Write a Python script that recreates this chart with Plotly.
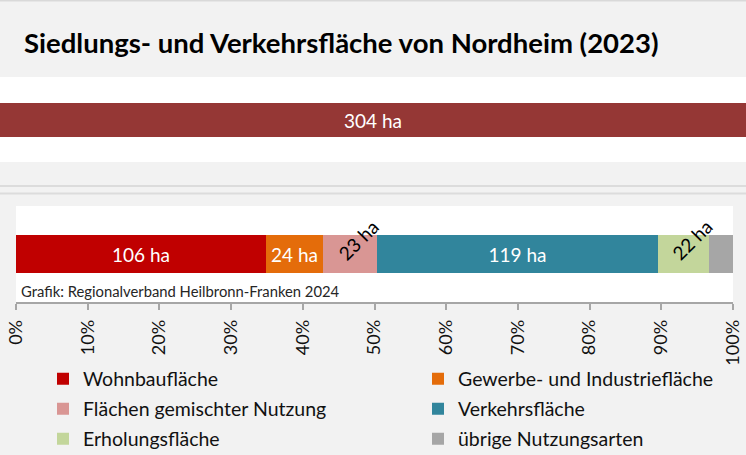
import plotly.graph_objects as go

# Flächennutzung der Siedlungs- und Verkehrsfläche, Nordheim 2023 (in ha)
categories = [
    "Wohnbaufläche",
    "Gewerbe- und Industriefläche",
    "Flächen gemischter Nutzung",
    "Verkehrsfläche",
    "Erholungsfläche",
    "übrige Nutzungsarten",
]
hectares = [106, 24, 23, 119, 22, 10]
total_ha = 304
# how each segment is labelled: horizontal inside, rotated above, or not at all
label_style = ["inside", "inside", "rotated", "inside", "rotated", "none"]
colors = ["#c00000", "#e46c0a", "#d99694", "#31859c", "#c3d69b", "#a6a6a6"]
total_color = "#953735"
tick_values = [0, 10, 20, 30, 40, 50, 60, 70, 80, 90, 100]
title_text = "Siedlungs- und Verkehrsfläche von Nordheim (2023)"
source_text = "Grafik: Regionalverband Heilbronn-Franken 2024"

W, H = 746, 455
FONT = "Lato"
BG = "#f2f2f2"


def py(px):
    """pixel row (from top) -> paper y"""
    return 1 - px / H


def px_x(px):
    return px / W


shares = [v / total_ha * 100 for v in hectares]

fig = go.Figure()

# total bar across the full width
fig.add_trace(go.Bar(
    x=[total_ha], y=["Gesamt"], orientation="h",
    marker=dict(color=total_color, line=dict(width=0)),
    width=0.4,
    text=[f"{total_ha} ha"], textposition="inside", insidetextanchor="middle",
    textfont=dict(color="white", size=19, family=FONT),
    xaxis="x2", yaxis="y2", showlegend=False, hoverinfo="skip",
))

# stacked shares
legend_ids = ["legend", "legend", "legend2", "legend2", "legend3", "legend3"]
for name, ha, share, style, col, lg in zip(categories, hectares, shares,
                                             label_style, colors, legend_ids):
    fig.add_trace(go.Bar(
        x=[share], y=["Anteil"], orientation="h", name=name,
        marker=dict(color=col, line=dict(width=0)),
        width=0.4,
        text=[f"{ha} ha" if style == "inside" else ""],
        textposition="inside", insidetextanchor="middle", textangle=0,
        textfont=dict(color="white", size=19, family=FONT),
        legend=lg, hoverinfo="skip",
    ))

# rotated labels for the narrow segments
annotations = []
cum = 0
for ha, share, style in zip(hectares, shares, label_style):
    mid = cum + share / 2
    cum += share
    if style == "rotated":
        annotations.append(dict(
            x=mid, y="Anteil", xref="x", yref="y",
            text=f"{ha} ha", showarrow=False, textangle=-45,
            xshift=9, yshift=14,
            font=dict(color="black", size=19, family=FONT),
        ))

annotations.append(dict(
    x=px_x(19), y=py(290.5), xref="paper", yref="paper",
    xanchor="left", yanchor="middle", showarrow=False,
    text=source_text, font=dict(color="#262626", size=14.8, family=FONT),
))

# separator lines and top rule
shapes = []
for yline, c in [(0.5, "#d9d9d9"), (186, "#dcdcdc"), (193.5, "#dcdcdc")]:
    shapes.append(dict(type="line", xref="paper", yref="paper",
                       x0=0, x1=1, y0=py(yline), y1=py(yline),
                       line=dict(color=c, width=2), layer="below"))

legend_common = dict(
    orientation="h", xanchor="left", yanchor="middle",
    x=px_x(43), entrywidth=330, entrywidthmode="pixels",
    traceorder="normal",
    bgcolor="rgba(0,0,0,0)", borderwidth=0,
    font=dict(size=19.5, family=FONT, color="#111111"),
)

fig.update_layout(
    width=W, height=H,
    margin=dict(l=0, r=0, t=0, b=0, autoexpand=False),
    paper_bgcolor=BG, plot_bgcolor="white",
    barmode="stack", bargap=0,
    font=dict(family=FONT),
    title=dict(text=f"<b>{title_text}</b>", x=px_x(24), xanchor="left",
               y=py(43), yanchor="middle", xref="paper", yref="paper",
               font=dict(size=27.5, family=FONT, color="black")),
    xaxis=dict(domain=[px_x(16), px_x(733)], range=[0, 100],
               tickvals=tick_values, ticktext=[f"{t}%" for t in tick_values],
               tickangle=-90, ticks="outside", ticklen=6, tickwidth=1.5,
               tickcolor="#a6a6a6", showline=True, linecolor="#a6a6a6",
               linewidth=1.5, showgrid=False, zeroline=False, anchor="y",
               ticklabelstandoff=3,
               tickfont=dict(size=18, family=FONT, color="#111111"),
               fixedrange=True),
    yaxis=dict(domain=[py(302), py(206)], range=[-0.5, 0.5],
               showticklabels=False, showgrid=False, zeroline=False,
               anchor="x", fixedrange=True),
    xaxis2=dict(domain=[0, 1], range=[0, total_ha], visible=False,
                anchor="y2"),
    yaxis2=dict(domain=[py(162), py(77)], range=[-0.5, 0.5], visible=False,
                anchor="x2"),
    legend=dict(legend_common, y=py(379)),
    legend2=dict(legend_common, y=py(409)),
    legend3=dict(legend_common, y=py(439)),
    annotations=annotations,
    shapes=shapes,
    uniformtext=dict(mode="show", minsize=8),
)

fig.write_html("out.html")
